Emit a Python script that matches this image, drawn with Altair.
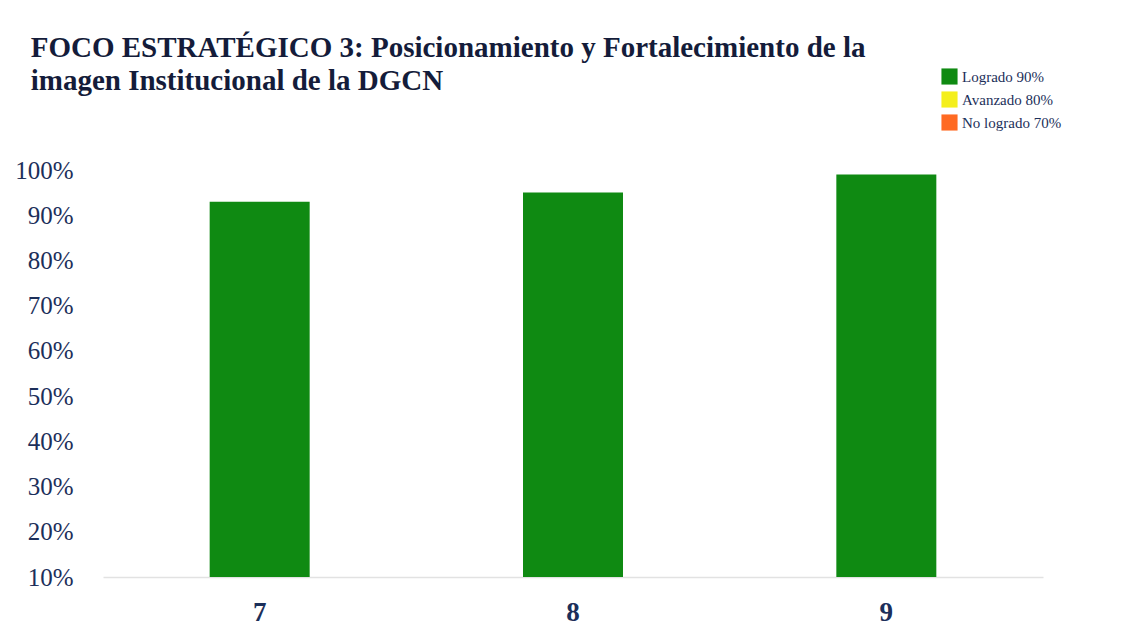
import altair as alt
import pandas as pd

categories = ["7", "8", "9"]
values = [93, 95, 99]
status = ["Logrado 90%", "Logrado 90%", "Logrado 90%"]
legend_labels = ["Logrado 90%", "Avanzado 80%", "No logrado 70%"]
legend_colors = ["#0f8a12", "#f4ef1c", "#ff6a22"]
y_ticks = [10, 20, 30, 40, 50, 60, 70, 80, 90, 100]

df = pd.DataFrame({"cat": categories, "val": values, "base": [10] * 3, "status": status})

FONT = "Liberation Serif"
NAVY = "#1c2f5a"

chart = alt.Chart(df).mark_bar(size=100).encode(
    x=alt.X("cat:N", sort=categories, title=None,
            scale=alt.Scale(paddingInner=0.68, paddingOuter=0.34),
            axis=alt.Axis(labelAngle=0, labelFont=FONT, labelFontSize=27, labelFontWeight="bold",
                          labelColor=NAVY, labelPadding=22, ticks=False,
                          domainColor="#e2e2e2", domainWidth=1.5)),
    y=alt.Y("val:Q", title=None,
            scale=alt.Scale(domain=[10, 100], nice=False, zero=False),
            axis=alt.Axis(values=y_ticks, labelExpr="datum.value + '%'", grid=False, domain=False,
                          ticks=False, labelFont=FONT, labelFontSize=25, labelColor=NAVY,
                          labelPadding=30)),
    y2="base:Q",
    color=alt.Color("status:N",
                    scale=alt.Scale(domain=legend_labels, range=legend_colors),
                    legend=alt.Legend(title=None, orient="none", legendX=838, legendY=-102,
                                      symbolType="square", symbolSize=260, symbolStrokeWidth=0,
                                      labelFont=FONT, labelFontSize=15, labelColor=NAVY,
                                      rowPadding=6, labelOffset=4)),
).properties(
    width=940, height=407,
    padding={"left": 6, "top": 26, "right": 5, "bottom": 5},
    title=alt.TitleParams(
        text=["FOCO ESTRATÉGICO 3:  Posicionamiento y Fortalecimiento de la",
              "imagen Institucional de la DGCN"],
        anchor="start", frame="bounds", dx=16, offset=-28,
        font=FONT, fontSize=29, fontWeight="bold", color="#141c3a", lineHeight=33),
).configure_view(stroke=None)

chart.save("out.html", embed_options={"renderer": "svg", "actions": False})
